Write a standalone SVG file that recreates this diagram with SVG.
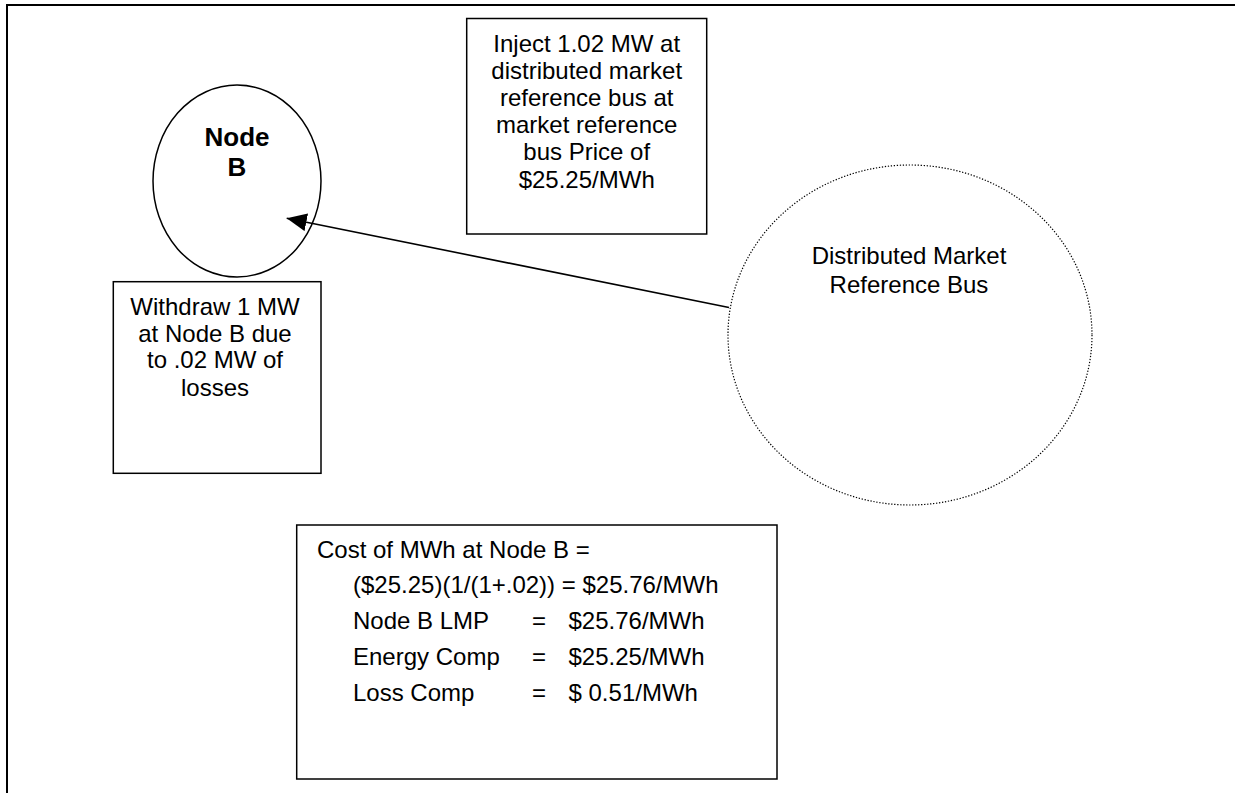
<svg xmlns="http://www.w3.org/2000/svg" width="1235" height="793" viewBox="0 0 1235 793">
<style>
  .box { fill: #ffffff; stroke: #000000; stroke-width: 1.5; }
  .t { font-family: "Liberation Sans", Arial, sans-serif; font-size: 24px; fill: #000000; }
  .c { text-anchor: middle; }
  .b { font-weight: bold; font-size: 26px; }
  .conn { stroke: #000000; stroke-width: 1.6; fill: none; }
</style>
<defs>
  <marker id="arrow" viewBox="0 0 20 18" refX="20" refY="9" markerWidth="20" markerHeight="18" orient="auto" markerUnits="userSpaceOnUse">
    <path d="M0,0 L20,9 L0,18 z" fill="#000000"/>
  </marker>
</defs>
<rect width="1235" height="793" fill="#ffffff"/>
<g id="frame">
  <path d="M7,793 L7,5 L1235,5" fill="none" stroke="#000000" stroke-width="2"/>
</g>
<g id="node-b">
  <ellipse cx="237" cy="181" rx="84" ry="96" class="box"/>
  <text class="t c b" x="237" y="146">Node</text>
  <text class="t c b" x="237" y="176">B</text>
</g>
<g id="inject-box">
  <rect x="466.7" y="18.5" width="240" height="215.5" class="box"/>
  <text class="t c" x="586.7" y="52">Inject 1.02 MW at</text>
  <text class="t c" x="586.7" y="79">distributed market</text>
  <text class="t c" x="586.7" y="106">reference bus at</text>
  <text class="t c" x="586.7" y="133">market reference</text>
  <text class="t c" x="586.7" y="160">bus Price of</text>
  <text class="t c" x="586.7" y="188">$25.25/MWh</text>
</g>
<g id="distributed-market-reference-bus">
  <ellipse cx="910" cy="335" rx="182" ry="170" fill="#ffffff" stroke="#000000" stroke-width="1.2" stroke-dasharray="1.3 1.7"/>
  <text class="t c" x="909" y="264">Distributed Market</text>
  <text class="t c" x="909" y="293">Reference Bus</text>
</g>
<g id="withdraw-box">
  <rect x="113.3" y="281.7" width="207.7" height="191.6" class="box"/>
  <text class="t c" x="215" y="315">Withdraw 1 MW</text>
  <text class="t c" x="215" y="341.7">at Node B due</text>
  <text class="t c" x="215" y="368.3">to .02 MW of</text>
  <text class="t c" x="215" y="395.7">losses</text>
</g>
<g id="cost-box">
  <rect x="296.7" y="525" width="480.3" height="254" class="box"/>
  <text class="t" x="317" y="558.3">Cost of MWh at Node B =</text>
  <text class="t" x="353" y="593.3">($25.25)(1/(1+.02)) = $25.76/MWh</text>
  <text class="t" x="353" y="629.3">Node B LMP</text>
  <text class="t" x="532" y="629.3">=</text>
  <text class="t" x="568.5" y="629.3">$25.76/MWh</text>
  <text class="t" x="353" y="665">Energy Comp</text>
  <text class="t" x="532" y="665">=</text>
  <text class="t" x="568.5" y="665">$25.25/MWh</text>
  <text class="t" x="353" y="700.7">Loss Comp</text>
  <text class="t" x="532" y="700.7">=</text>
  <text class="t" x="568.5" y="700.7">$ 0.51/MWh</text>
</g>
<g id="connectors">
  <line x1="729" y1="307.5" x2="286.7" y2="218.3" class="conn" marker-end="url(#arrow)"/>
</g>
</svg>
